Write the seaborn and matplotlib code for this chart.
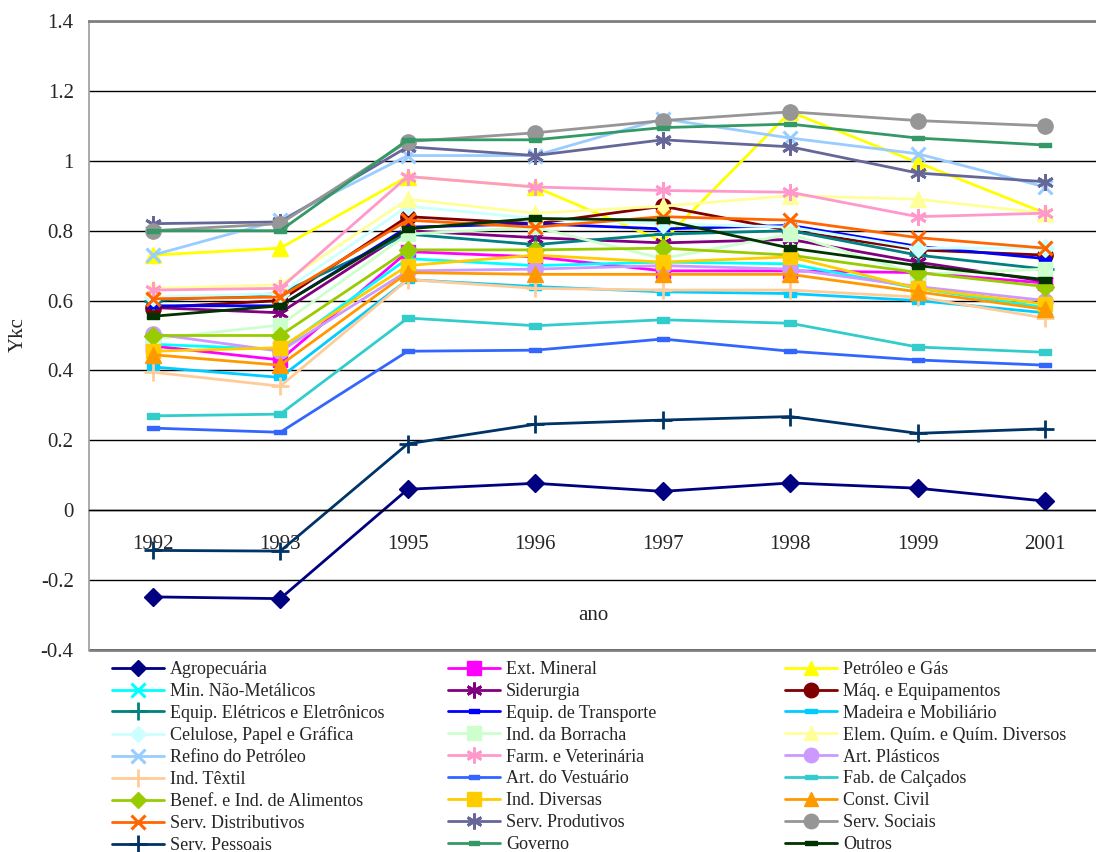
import numpy as np
import pandas as pd
import matplotlib
matplotlib.use("Agg")
import matplotlib.pyplot as plt
from matplotlib.ticker import FixedLocator
import seaborn as sns

# ---- data -------------------------------------------------------------
years = ["1992", "1993", "1995", "1996", "1997", "1998", "1999", "2001"]

agropecuaria      = [-0.248, -0.253, 0.060, 0.077, 0.054, 0.078, 0.063, 0.026]
ext_mineral       = [0.470, 0.430, 0.740, 0.725, 0.685, 0.685, 0.680, 0.650]
petroleo_gas      = [0.730, 0.750, 0.955, 0.925, 0.770, 1.140, 0.995, 0.850]
min_nao_metal     = [0.475, 0.460, 0.720, 0.700, 0.710, 0.705, 0.635, 0.580]
siderurgia        = [0.580, 0.565, 0.800, 0.780, 0.765, 0.775, 0.710, 0.655]
maq_equip         = [0.580, 0.600, 0.840, 0.820, 0.870, 0.800, 0.745, 0.730]
equip_eletricos   = [0.600, 0.620, 0.790, 0.760, 0.790, 0.800, 0.730, 0.690]
equip_transporte  = [0.585, 0.585, 0.810, 0.820, 0.805, 0.815, 0.755, 0.720]
madeira_mobil     = [0.410, 0.380, 0.660, 0.640, 0.625, 0.620, 0.600, 0.565]
celulose_papel    = [0.610, 0.620, 0.870, 0.835, 0.820, 0.810, 0.750, 0.750]
ind_borracha      = [0.490, 0.530, 0.790, 0.810, 0.720, 0.790, 0.675, 0.690]
elem_quimicos     = [0.635, 0.645, 0.890, 0.850, 0.870, 0.900, 0.890, 0.850]
refino_petroleo   = [0.730, 0.830, 1.015, 1.015, 1.120, 1.065, 1.020, 0.925]
farm_veterinaria  = [0.630, 0.635, 0.955, 0.925, 0.915, 0.910, 0.840, 0.850]
art_plasticos     = [0.505, 0.455, 0.685, 0.690, 0.700, 0.690, 0.640, 0.600]
ind_textil        = [0.395, 0.355, 0.660, 0.635, 0.630, 0.630, 0.610, 0.550]
art_vestuario     = [0.235, 0.223, 0.455, 0.458, 0.490, 0.455, 0.430, 0.415]
fab_calcados      = [0.270, 0.275, 0.550, 0.528, 0.545, 0.535, 0.467, 0.452]
benef_alimentos   = [0.500, 0.500, 0.745, 0.745, 0.750, 0.730, 0.680, 0.640]
ind_diversas      = [0.455, 0.465, 0.700, 0.730, 0.710, 0.725, 0.635, 0.590]
const_civil       = [0.445, 0.415, 0.680, 0.675, 0.675, 0.675, 0.625, 0.575]
serv_distrib      = [0.605, 0.610, 0.830, 0.810, 0.840, 0.830, 0.780, 0.750]
serv_produtivos   = [0.820, 0.825, 1.040, 1.015, 1.060, 1.040, 0.965, 0.940]
serv_sociais      = [0.800, 0.820, 1.055, 1.080, 1.115, 1.140, 1.115, 1.100]
serv_pessoais     = [-0.115, -0.117, 0.190, 0.246, 0.258, 0.268, 0.220, 0.233]
governo           = [0.800, 0.800, 1.060, 1.060, 1.095, 1.105, 1.065, 1.045]
outros            = [0.555, 0.585, 0.805, 0.835, 0.830, 0.750, 0.700, 0.660]

y_ticks = [-0.4, -0.2, 0.0, 0.2, 0.4, 0.6, 0.8, 1.0, 1.2, 1.4]
y_tick_labels = ["-0.4", "-0.2", "0", "0.2", "0.4", "0.6", "0.8", "1", "1.2", "1.4"]

# ---- styles -----------------------------------------------------------
DASH = [(-1, -0.42), (1, -0.42), (1, 0.42), (-1, 0.42), (-1, -0.42)]
AST = (6, 2, 0)

# (label, values, colour, marker, marker size, edge width)
series = [
    ("Agropecuária", agropecuaria, "#000080", "D", 9, 1),
    ("Ext. Mineral", ext_mineral, "#FF00FF", "s", 10, 1),
    ("Petróleo e Gás", petroleo_gas, "#FFFF00", "^", 11, 1),
    ("Min. Não-Metálicos", min_nao_metal, "#00FFFF", "x", 10, 2.2),
    ("Siderurgia", siderurgia, "#800080", AST, 12, 2),
    ("Máq. e Equipamentos", maq_equip, "#800000", "o", 11, 1),
    ("Equip. Elétricos e Eletrônicos", equip_eletricos, "#008080", "+", 13, 2),
    ("Equip. de Transporte", equip_transporte, "#0000FF", DASH, 8, 1),
    ("Madeira e Mobiliário", madeira_mobil, "#00CCFF", DASH, 9, 1),
    ("Celulose, Papel e Gráfica", celulose_papel, "#CCFFFF", "D", 9, 1),
    ("Ind. da Borracha", ind_borracha, "#CCFFCC", "s", 10, 1),
    ("Elem. Quím. e Quím. Diversos", elem_quimicos, "#FFFF99", "^", 11, 1),
    ("Refino do Petróleo", refino_petroleo, "#99CCFF", "x", 10, 2.2),
    ("Farm. e Veterinária", farm_veterinaria, "#FF99CC", AST, 12, 2),
    ("Art. Plásticos", art_plasticos, "#CC99FF", "o", 11, 1),
    ("Ind. Têxtil", ind_textil, "#FFCC99", "+", 13, 2),
    ("Art. do Vestuário", art_vestuario, "#3366FF", DASH, 8, 1),
    ("Fab. de Calçados", fab_calcados, "#33CCCC", DASH, 9, 1),
    ("Benef. e Ind. de Alimentos", benef_alimentos, "#99CC00", "D", 9, 1),
    ("Ind. Diversas", ind_diversas, "#FFCC00", "s", 10, 1),
    ("Const. Civil", const_civil, "#FF9900", "^", 11, 1),
    ("Serv. Distributivos", serv_distrib, "#FF6600", "x", 10, 2.2),
    ("Serv. Produtivos", serv_produtivos, "#666699", AST, 12, 2),
    ("Serv. Sociais", serv_sociais, "#969696", "o", 11, 1),
    ("Serv. Pessoais", serv_pessoais, "#003366", "+", 13, 2),
    ("Governo", governo, "#339966", DASH, 8, 1),
    ("Outros", outros, "#003300", DASH, 9, 1),
]

# ---- figure -----------------------------------------------------------
sns.set_theme(style="white")
plt.rcParams["font.family"] = ["Liberation Serif", "DejaVu Serif"]

fig = plt.figure(figsize=(10.96, 8.52), dpi=100)
W, H = 1096, 852
x0, x1, ytop, ybot = 89, 1109, 21, 650
ax = fig.add_axes([x0 / W, 1 - ybot / H, (x1 - x0) / W, (ybot - ytop) / H])

handles = []
for label, vals, color, marker, ms, mew in series:
    df = pd.DataFrame({"ano": years, "Ykc": vals})
    sns.lineplot(data=df, x="ano", y="Ykc", ax=ax, sort=False,
                 color=color, linewidth=2.0, marker=marker, markersize=ms,
                 markeredgecolor=color, markerfacecolor=color,
                 markeredgewidth=mew, legend=False)
    line = ax.lines[-1]
    line.set_label(label)
    handles.append(line)

ax.set_xlim(-0.5, len(years) - 0.5)
ax.set_ylim(-0.4, 1.4)
ax.set_yticks(y_ticks)
ax.set_yticklabels(y_tick_labels, fontsize=15)
ax.yaxis.grid(True, color="black", linewidth=1)
ax.set_axisbelow(True)

# category axis crossing at zero
ax.spines["bottom"].set_position(("data", 0))
ax.spines["bottom"].set_color("black")
ax.spines["bottom"].set_linewidth(1)
ax.spines["right"].set_visible(False)
ax.spines["left"].set_color("#A0A0A0")
ax.spines["top"].set_color("#808080")
ax.spines["top"].set_linewidth(2)
ax.axhline(-0.4, color="#808080", linewidth=2, clip_on=False, zorder=0)

ax.set_xticks(range(len(years)))
ax.set_xticklabels(years, fontsize=15)
ax.xaxis.set_minor_locator(FixedLocator(np.arange(0.5, len(years) - 1, 1.0)))
ax.tick_params(axis="x", which="major", length=0, pad=18)
ax.tick_params(axis="x", which="minor", length=6, width=1, color="black",
               direction="out")
ax.tick_params(axis="y", which="major", length=4, color="#808080",
               direction="out", pad=7)

ax.set_xlabel("ano", fontsize=15)
ax.xaxis.label.set_verticalalignment("center")
ax.xaxis.set_label_coords((593 - x0) / (x1 - x0), (ybot - 615) / (ybot - ytop))
ax.set_ylabel("Ykc", fontsize=15)
ax.yaxis.label.set_verticalalignment("center")
ax.yaxis.set_label_coords((18 - x0) / (x1 - x0), (ybot - 335) / (ybot - ytop))

# legend: three fixed columns, read row by row
col_x = [112, 448, 785]
for c in range(3):
    hs = handles[c::3]
    fig.legend(handles=hs, labels=[h.get_label() for h in hs],
               loc="upper left", bbox_to_anchor=(col_x[c] / W, 1 - 661 / H),
               frameon=False, fontsize=13, handlelength=2.9,
               handletextpad=0.3, labelspacing=0.27, borderpad=0,
               borderaxespad=0, markerscale=0.95)

fig.savefig("out.png", dpi=100)
